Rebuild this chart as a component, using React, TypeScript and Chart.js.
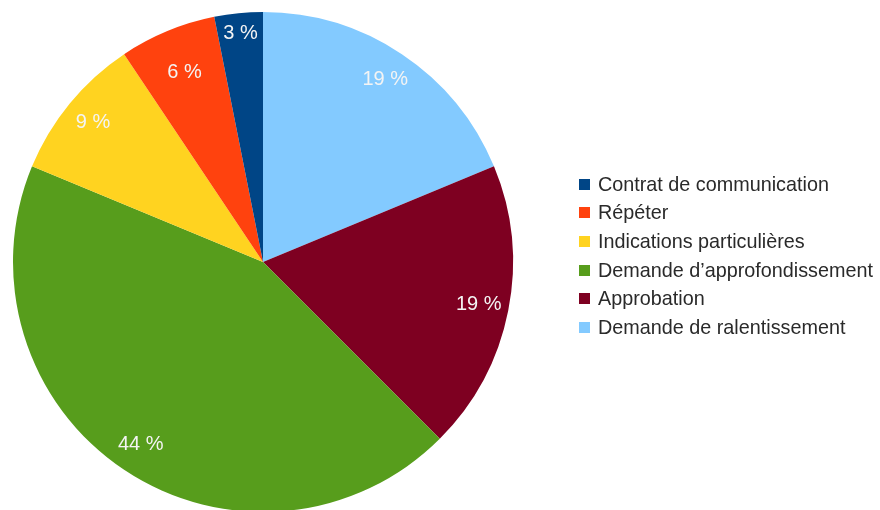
import React, { useEffect, useRef } from "react";
import { Chart, registerables } from "chart.js";

Chart.register(...registerables);

// Legend order (as shown in the reference legend)
const categories = [
  "Contrat de communication",
  "Répéter",
  "Indications particulières",
  "Demande d’approfondissement",
  "Approbation",
  "Demande de ralentissement",
];
const values = [1, 2, 3, 14, 6, 6];
const colors = ["#004586", "#ff420e", "#ffd320", "#579d1c", "#7e0021", "#83caff"];

const total = values.reduce((a, b) => a + b, 0);

const pctLabelPlugin = {
  id: "pctLabels",
  afterDatasetsDraw(chart: any) {
    const ctx = chart.ctx;
    const meta = chart.getDatasetMeta(0);
    const data = chart.data.datasets[0].data as number[];
    ctx.save();
    ctx.font = '20px "Liberation Sans", Arial, sans-serif';
    ctx.fillStyle = "#f4f4f4";
    ctx.textAlign = "center";
    ctx.textBaseline = "middle";
    meta.data.forEach((arc: any, i: number) => {
      const { x, y, startAngle, endAngle, outerRadius } = arc.getProps(
        ["x", "y", "startAngle", "endAngle", "outerRadius"],
        true
      );
      const mid = (startAngle + endAngle) / 2;
      const pct = Math.round((data[i] / total) * 100);
      // very thin slices push their label outward, as in the reference
      const r = outerRadius * (pct < 5 ? 0.92 : pct < 8 ? 0.82 : 0.88);
      ctx.fillText(pct + " %", x + Math.cos(mid) * r, y + Math.sin(mid) * r);
    });
    ctx.restore();
  },
};

export default function App() {
  const ref = useRef<HTMLCanvasElement | null>(null);

  useEffect(() => {
    document.body.style.margin = "0";
    document.body.style.overflow = "hidden";
    const canvas = ref.current!;
    // pie drawn counterclockwise in the reference: reverse for Chart.js (clockwise)
    const chartLabels = [...categories].reverse();
    const chartValues = [...values].reverse();
    const chartColors = [...colors].reverse();
    const chart = new Chart(canvas, {
      type: "pie",
      data: {
        labels: chartLabels,
        datasets: [
          {
            data: chartValues,
            backgroundColor: chartColors,
            borderWidth: 0,
            hoverOffset: 0,
          },
        ],
      },
      options: {
        responsive: false,
        animation: false,
        devicePixelRatio: 1,
        layout: { padding: { left: 13, top: 12, right: 367, bottom: 18 } },
        plugins: {
          legend: { display: false },
          tooltip: { enabled: false },
        },
      },
      plugins: [pctLabelPlugin],
    });
    return () => chart.destroy();
  }, []);

  return (
    <div style={{ position: "relative", width: 880, height: 510, overflow: "hidden", background: "#fff" }}>
      <canvas ref={ref} width={880} height={530} style={{ position: "absolute", left: 0, top: 0 }} />
      <div
        style={{
          position: "absolute",
          left: 579,
          top: 170,
          fontFamily: '"Liberation Sans", Arial, sans-serif',
          fontSize: 19.8,
          color: "#2a2a2a",
        }}
      >
        {categories.map((c, i) => (
          <div key={c} style={{ display: "flex", alignItems: "center", height: 28.6, whiteSpace: "nowrap" }}>
            <span
              style={{
                display: "inline-block",
                width: 11,
                height: 11,
                background: colors[i],
                marginRight: 8,
              }}
            />
            <span>{c}</span>
          </div>
        ))}
      </div>
    </div>
  );
}
